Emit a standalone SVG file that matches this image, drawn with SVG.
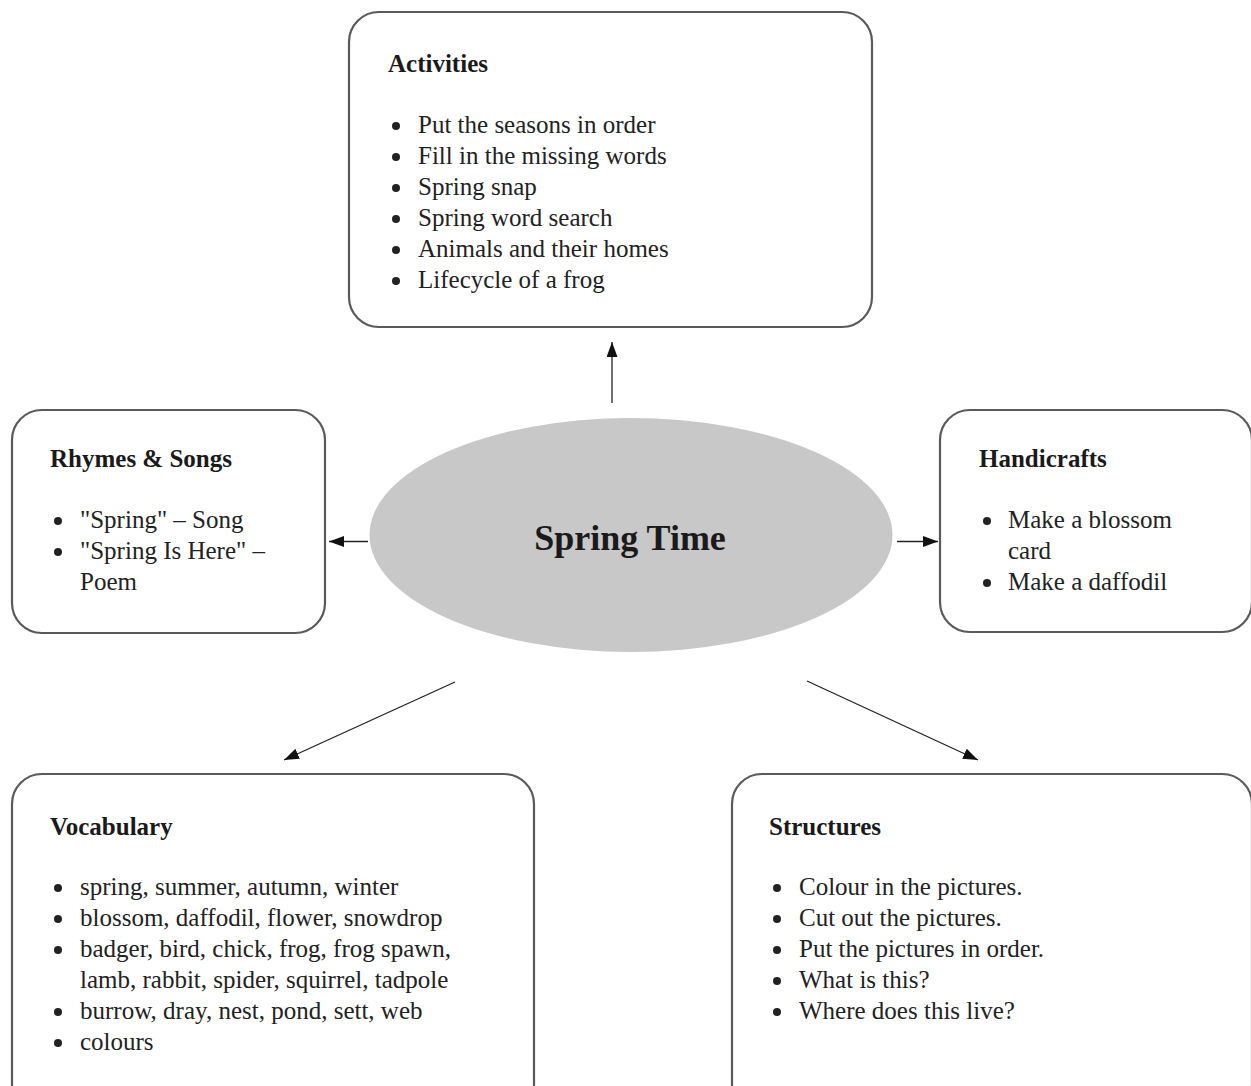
<svg xmlns="http://www.w3.org/2000/svg" width="1251" height="1086" viewBox="0 0 1251 1086">
<defs>
<style>
.box{fill:#fff;stroke:#5a5a5a;stroke-width:2.2}
.h{font-family:"Liberation Serif","DejaVu Serif",serif;font-weight:bold;font-size:25px;fill:#1a1a1a}
.t{font-family:"Liberation Serif","DejaVu Serif",serif;font-size:25px;fill:#222}
.b{fill:#222}
.c{stroke:#222;stroke-width:1.3;fill:none;marker-end:url(#ah)}
</style>
<marker id="ah" viewBox="0 0 15 11" refX="15" refY="5.5" markerWidth="15" markerHeight="11" markerUnits="userSpaceOnUse" orient="auto">
<path d="M0,0 L15,5.5 L0,11 z" fill="#111"/>
</marker>
</defs>
<rect width="1251" height="1086" fill="#fff"/>
<g id="connectors">
<line class="c" x1="612" y1="403" x2="612" y2="342"/>
<line class="c" x1="368" y1="541.5" x2="329" y2="541.5"/>
<line class="c" x1="897" y1="541.5" x2="938" y2="541.5"/>
<line class="c" x1="455" y1="682" x2="284" y2="760"/>
<line class="c" x1="807" y1="681" x2="978" y2="760"/>
</g>
<g id="center">
<ellipse cx="631" cy="535" rx="261.5" ry="117" fill="#c8c8c8"/>
<text x="630" y="550" text-anchor="middle" font-family="Liberation Serif,DejaVu Serif,serif" font-weight="bold" font-size="36" fill="#1a1a1a">Spring Time</text>
</g>
<g id="activities">
<rect class="box" x="349" y="12" width="523" height="315" rx="30"/>
<text class="h" x="388" y="72">Activities</text>
<g class="b"><circle cx="396" cy="126" r="4"/><circle cx="396" cy="157" r="4"/><circle cx="396" cy="188" r="4"/><circle cx="396" cy="219" r="4"/><circle cx="396" cy="250" r="4"/><circle cx="396" cy="281" r="4"/></g>
<text class="t" x="418" y="133">Put the seasons in order</text>
<text class="t" x="418" y="164">Fill in the missing words</text>
<text class="t" x="418" y="195">Spring snap</text>
<text class="t" x="418" y="226">Spring word search</text>
<text class="t" x="418" y="257">Animals and their homes</text>
<text class="t" x="418" y="288">Lifecycle of a frog</text>
</g>
<g id="rhymes">
<rect class="box" x="12" y="410" width="313" height="223" rx="30"/>
<text class="h" x="50" y="467">Rhymes &amp; Songs</text>
<g class="b"><circle cx="58" cy="521" r="4"/><circle cx="58" cy="552" r="4"/></g>
<text class="t" x="80" y="528">"Spring" – Song</text>
<text class="t" x="80" y="559">"Spring Is Here" –</text>
<text class="t" x="80" y="590">Poem</text>
</g>
<g id="handicrafts">
<rect class="box" x="940" y="410" width="312" height="222" rx="30"/>
<text class="h" x="979" y="467">Handicrafts</text>
<g class="b"><circle cx="987" cy="521" r="4"/><circle cx="987" cy="583" r="4"/></g>
<text class="t" x="1008" y="528">Make a blossom</text>
<text class="t" x="1008" y="559">card</text>
<text class="t" x="1008" y="590">Make a daffodil</text>
</g>
<g id="vocabulary">
<rect class="box" x="12" y="774" width="522" height="340" rx="30"/>
<text class="h" x="50" y="835">Vocabulary</text>
<g class="b"><circle cx="58" cy="888" r="4"/><circle cx="58" cy="919" r="4"/><circle cx="58" cy="950" r="4"/><circle cx="58" cy="1012" r="4"/><circle cx="58" cy="1043" r="4"/></g>
<text class="t" x="80" y="895">spring, summer, autumn, winter</text>
<text class="t" x="80" y="926">blossom, daffodil, flower, snowdrop</text>
<text class="t" x="80" y="957">badger, bird, chick, frog, frog spawn,</text>
<text class="t" x="80" y="988">lamb, rabbit, spider, squirrel, tadpole</text>
<text class="t" x="80" y="1019">burrow, dray, nest, pond, sett, web</text>
<text class="t" x="80" y="1050">colours</text>
</g>
<g id="structures">
<rect class="box" x="732" y="774" width="520" height="340" rx="30"/>
<text class="h" x="769" y="835">Structures</text>
<g class="b"><circle cx="777" cy="888" r="4"/><circle cx="777" cy="919" r="4"/><circle cx="777" cy="950" r="4"/><circle cx="777" cy="981" r="4"/><circle cx="777" cy="1012" r="4"/></g>
<text class="t" x="799" y="895">Colour in the pictures.</text>
<text class="t" x="799" y="926">Cut out the pictures.</text>
<text class="t" x="799" y="957">Put the pictures in order.</text>
<text class="t" x="799" y="988">What is this?</text>
<text class="t" x="799" y="1019">Where does this live?</text>
</g>
</svg>
